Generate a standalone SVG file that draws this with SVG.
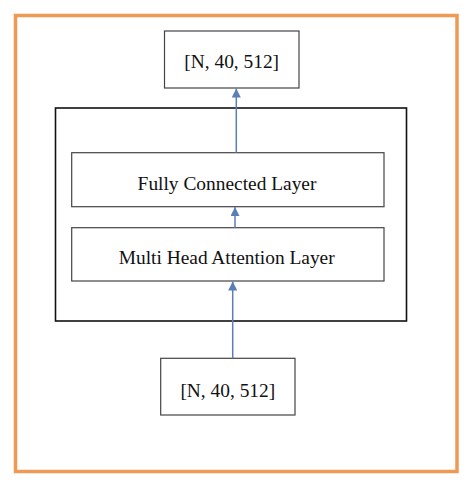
<svg xmlns="http://www.w3.org/2000/svg" width="474" height="488" viewBox="0 0 474 488">
<style>
.box{fill:#fff;stroke:#444;stroke-width:1.2}
.lbl{font-family:"Liberation Serif","Times New Roman",serif;font-size:19.4px;fill:#111;text-anchor:middle}
.conn{stroke:#5B7DB8;stroke-width:1.5;fill:none}
</style>
<defs>
<marker id="ah" viewBox="0 0 10 10" refX="10" refY="5" markerWidth="10" markerHeight="9" markerUnits="userSpaceOnUse" orient="auto">
<path d="M0,0 L10,5 L0,10 z" fill="#5B7DB8"/>
</marker>
</defs>
<rect x="0" y="0" width="474" height="488" fill="#fff"/>
<rect id="frame" x="15.5" y="15.5" width="441.5" height="456" fill="none" stroke="#EE9A55" stroke-width="3.5"/>
<g id="encoder">
<rect x="55.5" y="108" width="351" height="213" fill="#fff" stroke="#111" stroke-width="1.6"/>
</g>
<g id="output">
<rect class="box" x="164.5" y="31" width="134.5" height="57"/>
<text class="lbl" x="231.7" y="68">[N, 40, 512]</text>
</g>
<g id="fc">
<rect class="box" x="71.7" y="152.7" width="312.3" height="54"/>
<text class="lbl" x="227" y="189.5">Fully Connected Layer</text>
</g>
<g id="mha">
<rect class="box" x="71.7" y="227.7" width="312.3" height="53.3"/>
<text class="lbl" x="226.7" y="264">Multi Head Attention Layer</text>
</g>
<g id="input">
<rect class="box" x="160.7" y="358.3" width="134.3" height="56.7"/>
<text class="lbl" x="227.8" y="396.7">[N, 40, 512]</text>
</g>
<g id="connectors">
<line class="conn" x1="236.3" y1="152.7" x2="236.3" y2="88.5" marker-end="url(#ah)"/>
<line class="conn" x1="235" y1="227.7" x2="235" y2="207" marker-end="url(#ah)"/>
<line class="conn" x1="232.7" y1="358.3" x2="232.7" y2="281.5" marker-end="url(#ah)"/>
</g>
</svg>
